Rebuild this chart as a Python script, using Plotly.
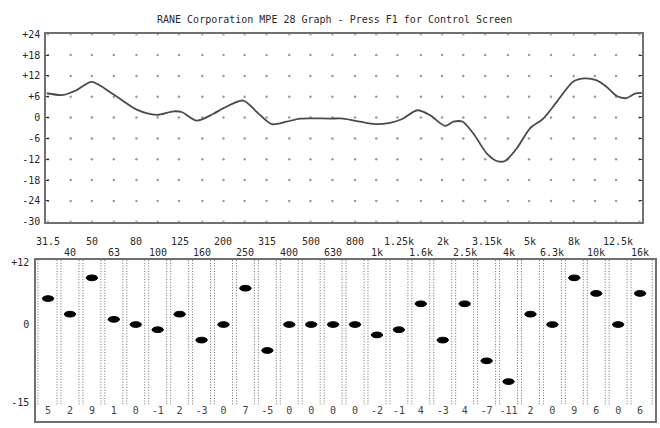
import plotly.graph_objects as go

# ---------------- data ----------------
band_labels = ["31.5", "40", "50", "63", "80", "100", "125", "160", "200", "250",
               "315", "400", "500", "630", "800", "1k", "1.25k", "1.6k", "2k", "2.5k",
               "3.15k", "4k", "5k", "6.3k", "8k", "10k", "12.5k", "16k"]
band_hz = [31.5, 40, 50, 63, 80, 100, 125, 160, 200, 250, 315, 400, 500, 630, 800,
           1000, 1250, 1600, 2000, 2500, 3150, 4000, 5000, 6300, 8000, 10000, 12500, 16000]
band_gain = [5, 2, 9, 1, 0, -1, 2, -3, 0, 7, -5, 0, 0, 0, 0, -2, -1, 4, -3, 4,
             -7, -11, 2, 0, 9, 6, 0, 6]

# response curve (Hz, dB)
resp_hz = [31.1, 37, 42.6, 49.9, 62.7, 80.2, 99, 118, 128.8, 151, 180, 200, 246.5, 284,
           332.6, 389, 448, 614, 707, 843, 987, 1156, 1307, 1541, 1761, 2063, 2252, 2485,
           2781, 3200, 3557, 3881, 4391, 5050, 5809, 6691, 7970, 9016, 10200, 11334,
           12594, 13990, 15268, 16386]
resp_db = [7.0, 6.5, 7.9, 10.3, 6.7, 2.3, 0.8, 1.8, 1.6, -0.9, 1.1, 2.7, 4.9, 1.6,
           -1.9, -1.2, -0.3, -0.3, -0.3, -1.2, -1.9, -1.5, -0.5, 2.1, 0.7, -2.4, -1.2, -1.2,
           -4.6, -10.3, -12.5, -12.5, -8.9, -3.1, -0.3, 4.5, 10.4, 11.3, 10.7, 8.8,
           6.2, 5.6, 6.9, 7.1]

top_tick_vals = [24, 18, 12, 6, 0, -6, -12, -18, -24, -30]
top_tick_text = ["+24", "+18", "+12", "+6", "0", "-6", "-12", "-18", "-24", "-30"]
bot_tick_vals = [12, 0, -15]
bot_tick_text = ["+12", "0", "-15"]

title_text = "RANE Corporation MPE 28 Graph - Press F1 for Control Screen"

# ---------------- figure ----------------
W, H = 660, 428
FONT = "DejaVu Sans Mono"
TXT = "#2a2a2a"

fig = go.Figure()

# grid dots in the upper graph
gx = [f for lv in top_tick_vals for f in band_hz]
gy = [lv for lv in top_tick_vals for f in band_hz]
fig.add_trace(go.Scatter(x=gx, y=gy, mode="markers", xaxis="x", yaxis="y",
                         marker=dict(size=2.5, color="#9a9a9a"), hoverinfo="skip"))

# response curve
fig.add_trace(go.Scatter(x=resp_hz, y=resp_db, mode="lines", xaxis="x", yaxis="y",
                         line=dict(color="#4a4a4a", width=1.8, shape="spline", smoothing=0.8)))

# value labels under each slider
idx = list(range(len(band_labels)))
fig.add_trace(go.Scatter(x=idx, y=[-16.7] * len(idx), mode="text", xaxis="x2", yaxis="y2",
                         text=[str(g) for g in band_gain], textposition="middle center",
                         textfont=dict(family=FONT, size=10, color="#444444"),
                         hoverinfo="skip"))

shapes = []
# dotted slider tracks
dot_dash = "1px,1.7px"
track_x = [-0.46]
for i in range(len(band_labels) - 1):
    track_x += [i + 0.41, i + 0.59]
track_x.append(len(band_labels) - 1 + 0.55)
for tx in track_x:
    shapes.append(dict(type="line", xref="x2", yref="y2", x0=tx, x1=tx, y0=12.4, y1=-15.4,
                       line=dict(color="#6e6e6e", width=1, dash=dot_dash), layer="below"))
# slider knobs (ellipses)
for i, g in enumerate(band_gain):
    shapes.append(dict(type="circle", xref="x2", yref="y2", x0=i - 0.26, x1=i + 0.26,
                       y0=g - 0.55, y1=g + 0.55, fillcolor="#000000",
                       line=dict(color="#000000", width=1)))

annotations = [dict(text=title_text, x=334 / W, y=1 - 14 / H, xref="paper", yref="paper",
                    showarrow=False, xanchor="center", yanchor="middle",
                    font=dict(family=FONT, size=10, color=TXT))]
for i, lab in enumerate(band_labels):
    annotations.append(dict(text=lab, x=i, y=1, xref="x2", yref="y2 domain",
                            showarrow=False, xanchor="center", yanchor="middle",
                            yshift=18 if i % 2 == 0 else 7,
                            font=dict(family=FONT, size=10, color=TXT)))

fig.update_layout(
    width=W, height=H, margin=dict(l=0, r=0, t=0, b=0),
    paper_bgcolor="white", plot_bgcolor="white", showlegend=False,
    shapes=shapes, annotations=annotations,
    xaxis=dict(type="log", range=[1.4892, 4.2156], domain=[46 / W, 642 / W],
               showgrid=False, zeroline=False, showticklabels=False, ticks="",
               showline=True, linecolor="#707070", linewidth=1.5, mirror=True,
               anchor="y"),
    yaxis=dict(range=[-30, 24], domain=[1 - 222 / H, 1 - 29 / H],
               tickvals=top_tick_vals, ticktext=top_tick_text,
               ticks="inside", ticklen=3, tickcolor="#333333", tickwidth=1,
               showgrid=False, zeroline=False,
               showline=True, linecolor="#707070", linewidth=1.5, mirror="ticks",
               tickfont=dict(family=FONT, size=10, color=TXT), ticklabelstandoff=2,
               anchor="x"),
    xaxis2=dict(range=[-0.55, 27.68], domain=[36 / W, 655 / W],
                showgrid=False, zeroline=False, showticklabels=False, ticks="",
                showline=True, linecolor="#707070", linewidth=1.5, mirror=True,
                anchor="y2"),
    yaxis2=dict(range=[-18.6, 12.5], domain=[1 - 427 / H, 1 - 261 / H],
                tickvals=bot_tick_vals, ticktext=bot_tick_text, ticks="",
                showgrid=False, zeroline=False,
                showline=True, linecolor="#707070", linewidth=1.5, mirror=True,
                tickfont=dict(family=FONT, size=10, color=TXT), ticklabelstandoff=3,
                anchor="x2"),
)

fig.write_html("out.html", config={"displayModeBar": False},
               post_script="document.body.style.margin='0px';document.body.style.overflow='hidden';")
